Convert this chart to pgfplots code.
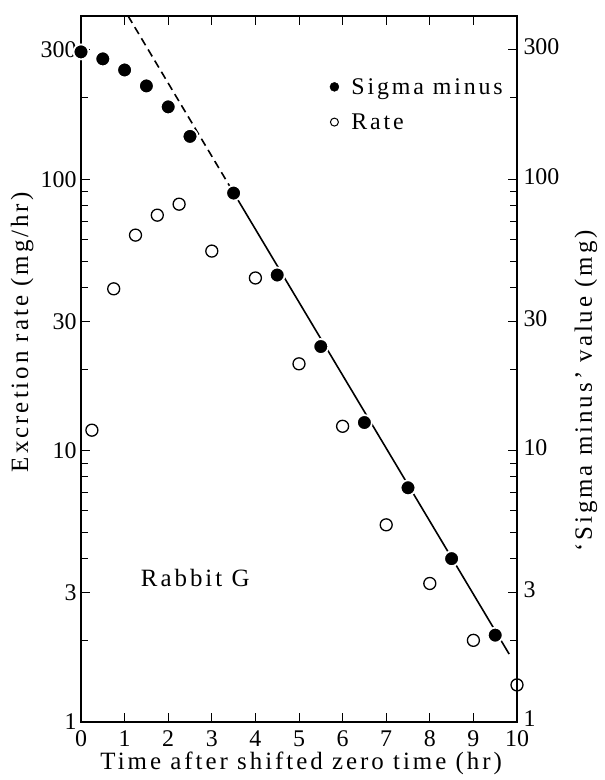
\documentclass[border=0pt]{standalone}
\usepackage{fontspec}
\setmainfont{Liberation Serif}[LetterSpace=12]
\newfontfamily\tickfamily{Liberation Serif}
\usepackage{pgfplots}
\pgfplotsset{compat=1.18}
\newcommand{\bigfont}{\fontsize{24}{28}\selectfont\tickfamily}
\newcommand{\labfont}{\fontsize{25}{29}\selectfont}
\newcommand{\legfont}{\fontsize{24}{28}\selectfont}
\begin{document}
\begin{tikzpicture}
\path[use as bounding box] (-81bp,-58bp) rectangle (524bp,722bp);
\begin{axis}[
  at={(0,0)}, anchor=south west,
  width=436bp, height=706bp, scale only axis,
  xmin=0, xmax=10, ymode=log, ymin=1, ymax=400,
  ytick={1,3,10,30,100,300},
  yticklabels={1,3,10,30,100,300},
  minor ytick={2,4,5,6,7,8,9,20,40,50,60,70,80,90,200},
  tick align=inside,
  major tick length=9bp, minor tick length=7bp,
  every tick/.style={black, line width=1bp},
  axis line style={line width=1.3bp},
  tick label style={font=\bigfont},
  /pgf/number format/assume math mode=true,
  xtick={0,...,10},
  xticklabels={0,1,2,3,4,5,6,7,8,9,10},
  xticklabel style={yshift=-5bp},
  yticklabel style={xshift=-1bp},
  xlabel={Time after shifted zero time (hr)},
  ylabel={Excretion rate (mg/hr)},
  every axis x label/.style={at={(axis description cs:0.505,-0.058)}, anchor=center, font=\labfont},
  every axis y label/.style={at={(axis description cs:-0.135,0.552)}, rotate=90, anchor=center, font=\labfont},
  legend style={at={(axis description cs:0.57,0.915)}, anchor=north west, draw=none, fill=none,
    font=\legfont, row sep=14bp, inner sep=0pt},
  legend cell align=left,
]
\addplot[black, line width=1.6bp, dash pattern=on 8bp off 5bp, forget plot] coordinates {(1.08,400) (3.5,89.3)};
\addplot[black, line width=1.6bp, forget plot] coordinates {(3.5,89.3) (9.82,1.78)};
\addplot[only marks, mark=*, mark size=7.5bp, mark options={fill=black, draw=white, line width=1.8bp},
  legend image code/.code={\draw[black, fill=black] (0.1cm,0cm) circle (4.5bp); \path (0.62cm,0cm);}]
  table {
x y
0 295
0.5 278
1 253
1.5 221
2 185
2.5 144
3.5 89
4.5 44.4
5.5 24.2
6.5 12.7
7.5 7.3
8.5 4.0
9.5 2.09
};
\addlegendentry{Sigma minus}
\addplot[only marks, mark=o, mark size=6bp, mark options={draw=black, fill=white, line width=1.3bp},
  legend image code/.code={\draw[black, line width=1bp, fill=white] (0.1cm,0cm) circle (4bp); \path (0.62cm,0cm);}]
  table {
x y
0.25 11.9
0.75 39.5
1.25 62.3
1.75 73.8
2.25 81
3 54.4
4 43.3
5 20.9
6 12.3
7 5.33
8 3.24
9 2.0
10 1.37
};
\addlegendentry{Rate}
\node[font=\labfont, anchor=center] at (axis cs:2.62,3.4) {Rabbit G};
\end{axis}
\begin{axis}[
  at={(0,0)}, anchor=south west,
  width=436bp, height=706bp, scale only axis,
  xmin=0, xmax=10, ymode=log, ymin=1, ymax=400,
  ytick={1,3,10,30,100,300},
  yticklabels={1,3,10,30,100,300},
  minor ytick={2,4,5,6,7,8,9,20,40,50,60,70,80,90,200},
  tick align=inside,
  major tick length=9bp, minor tick length=7bp,
  every tick/.style={black, line width=1bp},
  axis line style={line width=1.3bp},
  tick label style={font=\bigfont},
  yticklabel style={xshift=3bp, yshift=3bp},
  /pgf/number format/assume math mode=true,
  axis x line=none,
  axis y line*=right,
  ylabel={‘Sigma minus’ value (mg)},
  every axis y label/.style={at={(axis description cs:1.158,0.469)}, rotate=90, anchor=center, font=\labfont},
]
\addplot[draw=none] coordinates {(0,1)};
\end{axis}
\end{tikzpicture}
\end{document}
